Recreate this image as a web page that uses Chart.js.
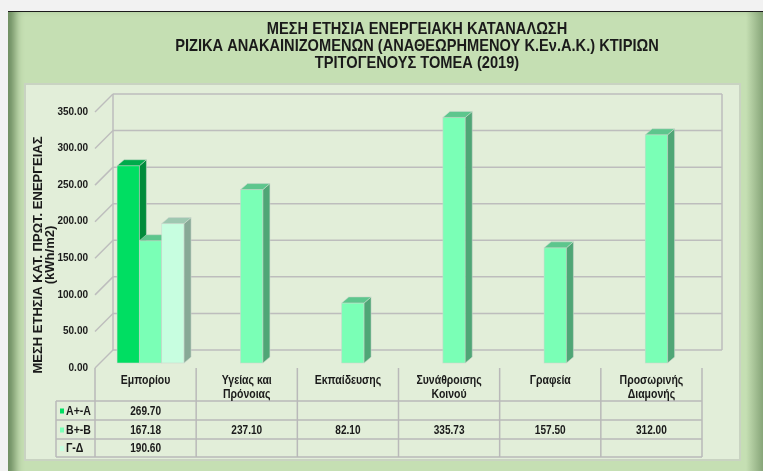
<!DOCTYPE html>
<html>
<head>
<meta charset="utf-8">
<script src="https://cdn.jsdelivr.net/npm/chart.js@4.4.1/dist/chart.umd.min.js"></script>
<style>
  html, body { margin: 0; padding: 0; background: #f2f2f2; }
  #wrap { position: relative; width: 763px; height: 471px; overflow: hidden; }
  #frame {
    position: absolute; left: 8px; top: 11px; width: 780px; height: 480px;
    background: #c5dfb3; border-top: 1px solid #1c1c1c;
    box-shadow: inset 12px 0 9px -5px rgba(50, 85, 40, 0.6);
  }
  #edge {
    position: absolute; left: 746px; top: 12px; width: 17px; height: 459px;
    background: linear-gradient(to right, rgba(60, 95, 50, 0), rgba(60, 95, 50, 0.45));
  }
  #plot {
    position: absolute; left: 24px; top: 83px; width: 713px; height: 374px;
    background: #e2eed9; border: 2px solid #c9d3c2;
  }
  canvas { position: absolute; left: 0; top: 0; }
</style>
</head>
<body>
<div id="wrap">
  <div id="frame"></div>
  <div id="edge"></div>
  <div id="plot"></div>
  <canvas id="chart" width="763" height="471"></canvas>
</div>
<script>
const titleLines = ['ΜΕΣΗ ΕΤΗΣΙΑ ΕΝΕΡΓΕΙΑΚΗ ΚΑΤΑΝΑΛΩΣΗ', 'ΡΙΖΙΚΑ ΑΝΑΚΑΙΝΙΖΟΜΕΝΩΝ (ΑΝΑΘΕΩΡΗΜΕΝΟΥ Κ.Εν.Α.Κ.) ΚΤΙΡΙΩΝ', 'ΤΡΙΤΟΓΕΝΟΥΣ ΤΟΜΕΑ (2019)'];
const yTitle = ['ΜΕΣΗ ΕΤΗΣΙΑ ΚΑΤ. ΠΡΩΤ. ΕΝΕΡΓΕΙΑΣ', '(kWh/m2)'];
const categories = [['Εμπορίου'], ['Υγείας και', 'Πρόνοιας'], ['Εκπαίδευσης'], ['Συνάθροισης', 'Κοινού'], ['Γραφεία'], ['Προσωρινής', 'Διαμονής']];
const seriesNames = ['Α+-Α', 'Β+-Β', 'Γ-Δ'];
const valuesA = [269.70, null, null, null, null, null];
const valuesB = [167.18, 237.10, 82.10, 335.73, 157.50, 312.00];
const valuesC = [190.60, null, null, null, null, null];
const yTicks = [0, 50, 100, 150, 200, 250, 300, 350];

const seriesValues = [valuesA, valuesB, valuesC];
const frontColors = ['#00de62', '#7affb6', '#c7fee0'];
const sideColors = ['#008b3b', '#4fa676', '#87a996'];
const topColors = ['#00aa4b', '#5dc68d', '#9ec8b1'];

const sans = "'Liberation Sans', Arial, sans-serif";
const gridColor = '#bdbdbd';
const textColor = '#1a1a1a';
const depth = { dx: 7, dy: 6 };

function line(ctx, x1, y1, x2, y2) {
    ctx.beginPath();
    ctx.moveTo(x1, y1);
    ctx.lineTo(x2, y2);
    ctx.stroke();
}

// no narrow font installed -> squeeze Liberation Sans horizontally
function narrowText(ctx, text, x, y, align, squeeze = 0.84) {
    ctx.save();
    ctx.translate(x, y);
    ctx.scale(squeeze, 1);
    ctx.textAlign = align;
    ctx.fillText(text, 0, 0);
    ctx.restore();
}

// back wall + tick diagonals (3d look)
const wallPlugin = {
    id: 'wall',
    beforeDatasetsDraw(chart) {
        const { ctx, chartArea: a, scales: { y } } = chart;
        const fx = a.left - 5, bx = a.left + 13, rx = a.right + 15;
        ctx.save();
        ctx.strokeStyle = gridColor;
        ctx.lineWidth = 1.5;
        yTicks.forEach(v => {
            const py = y.getPixelForValue(v);
            line(ctx, fx, py + 5, bx, py - 13);
            line(ctx, bx, py - 13, rx, py - 13);
        });
        const top = y.getPixelForValue(yTicks[yTicks.length - 1]) - 13;
        const bottom = y.getPixelForValue(0) - 13;
        line(ctx, bx, top, bx, bottom);
        line(ctx, rx, top, rx, bottom);
        ctx.restore();
    }
};

// redraw bars with side and top faces, dataset order 0 -> 2
const barsPlugin = {
    id: 'bars3d',
    afterDatasetsDraw(chart) {
        const ctx = chart.ctx;
        ctx.save();
        ctx.lineWidth = 0.6;
        ctx.strokeStyle = 'rgba(205,215,205,0.9)';
        chart.data.datasets.forEach((ds, i) => {
            const meta = chart.getDatasetMeta(i);
            meta.data.forEach((bar, j) => {
                if (ds.data[j] == null) return;
                const { x, y, base, width } = bar.getProps(['x', 'y', 'base', 'width'], true);
                const l = x - width / 2, r = x + width / 2;
                ctx.fillStyle = frontColors[i];
                ctx.fillRect(l, y, width, base - y);
                ctx.strokeRect(l, y, width, base - y);
                ctx.fillStyle = sideColors[i];
                ctx.beginPath();
                ctx.moveTo(r, y);
                ctx.lineTo(r + depth.dx, y - depth.dy);
                ctx.lineTo(r + depth.dx, base - depth.dy);
                ctx.lineTo(r, base);
                ctx.closePath();
                ctx.fill();
                ctx.stroke();
                ctx.fillStyle = topColors[i];
                ctx.beginPath();
                ctx.moveTo(l, y);
                ctx.lineTo(l + depth.dx, y - depth.dy);
                ctx.lineTo(r + depth.dx, y - depth.dy);
                ctx.lineTo(r, y);
                ctx.closePath();
                ctx.fill();
                ctx.stroke();
            });
        });
        ctx.restore();
    }
};

// data table under the plot
const tablePlugin = {
    id: 'table',
    afterDraw(chart) {
        const { ctx, chartArea: a, scales: { x } } = chart;
        const colW = (a.right - a.left) / categories.length;
        const x0 = a.left - 5;
        const tableLeft = 56;
        const tableRight = x0 + colW * categories.length;
        const headTop = a.bottom + 5;
        const rows = [a.bottom + 38, a.bottom + 57, a.bottom + 76, a.bottom + 94];
        ctx.save();
        ctx.strokeStyle = '#b9b9b9';
        ctx.lineWidth = 1.5;
        for (let k = 0; k <= categories.length; k++) {
            line(ctx, x0 + k * colW, headTop, x0 + k * colW, rows[3]);
        }
        rows.forEach(ry => line(ctx, tableLeft, ry, tableRight, ry));
        line(ctx, tableLeft, rows[0], tableLeft, rows[3]);

        ctx.fillStyle = textColor;
        ctx.textBaseline = 'middle';
        ctx.font = 'bold 12.5px ' + sans;
        categories.forEach((lines, i) => {
            const cx = x.getPixelForValue(i) - 5;
            lines.forEach((t, k) => narrowText(ctx, t, cx, a.bottom + 18 + k * 14, 'center'));
        });
        ctx.font = 'bold 12px ' + sans;
        seriesNames.forEach((name, s) => {
            const ry = (rows[s] + rows[s + 1]) / 2 + 1;
            ctx.fillStyle = frontColors[s];
            ctx.fillRect(tableLeft + 4, ry - 3, 4, 5);
            ctx.fillStyle = textColor;
            narrowText(ctx, name, tableLeft + 10, ry, 'left', 0.88);
            seriesValues[s].forEach((v, i) => {
                if (v == null) return;
                narrowText(ctx, v.toFixed(2), x.getPixelForValue(i) - 5, ry, 'center');
            });
        });
        ctx.restore();
    }
};

// chart title and y axis title
const titlesPlugin = {
    id: 'titles',
    afterDraw(chart) {
        const ctx = chart.ctx;
        ctx.save();
        ctx.fillStyle = textColor;
        ctx.textBaseline = 'middle';
        ctx.font = 'bold 17px ' + sans;
        titleLines.forEach((t, k) => narrowText(ctx, t, 417, 29 + k * 17, 'center', 0.86));
        ctx.translate(44.5, 255);
        ctx.rotate(-Math.PI / 2);
        ctx.textAlign = 'center';
        ctx.font = 'bold 13px ' + sans;
        yTitle.forEach((t, k) => ctx.fillText(t, 0, -6.5 + k * 12.5));
        ctx.restore();
    }
};

new Chart(document.getElementById('chart'), {
    type: 'bar',
    data: {
        labels: categories.map(c => c.join(' ')),
        datasets: seriesNames.map((name, i) => ({
            label: name,
            data: seriesValues[i],
            backgroundColor: frontColors[i],
            borderWidth: 0
        }))
    },
    options: {
        responsive: false,
        animation: false,
        devicePixelRatio: 1,
        layout: { padding: { left: 0, top: 107, right: 56, bottom: 108 } },
        datasets: { bar: { categoryPercentage: 0.662, barPercentage: 1 } },
        plugins: {
            legend: { display: false },
            tooltip: { enabled: false },
            title: { display: false }
        },
        scales: {
            x: { display: false },
            y: {
                min: 0,
                max: 350,
                afterBuildTicks: s => { s.ticks = yTicks.map(v => ({ value: v })); },
                afterFit: s => { s.width = 100; },
                grid: { display: false, drawTicks: false },
                border: { display: false },
                ticks: {
                    padding: 12,
                    labelOffset: 5,
                    color: textColor,
                    font: { family: sans, size: 10, weight: 'bold' },
                    callback: v => Number(v).toFixed(2)
                }
            }
        }
    },
    plugins: [wallPlugin, barsPlugin, tablePlugin, titlesPlugin]
});
</script>
</body>
</html>
